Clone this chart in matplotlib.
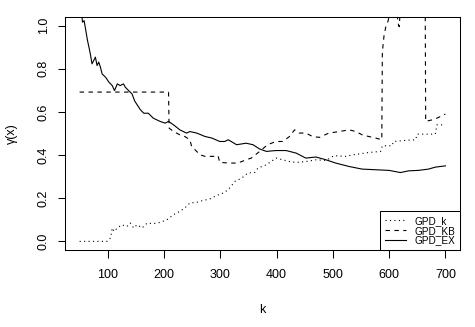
import matplotlib
matplotlib.use("Agg")
import matplotlib.pyplot as plt

plt.rcParams['font.family'] = ['Liberation Sans', 'DejaVu Sans']

# GPD_k (dotted)
k_k = [50, 99, 105, 108, 111, 117, 125, 134, 140, 146, 152, 161, 170, 181, 193, 205, 217, 228,
       237, 246, 258, 270, 281, 293, 305, 314, 326, 338, 349, 361, 367, 382, 399, 411, 423, 435,
       452, 470, 488, 502, 523, 535, 564, 585, 588, 605, 608, 629, 647, 650, 682, 685, 700]
gpd_k = [0.0, 0.0, 0.016, 0.062, 0.046, 0.062, 0.077, 0.069, 0.085, 0.062, 0.077, 0.062, 0.085,
         0.082, 0.088, 0.100, 0.124, 0.139, 0.155, 0.178, 0.181, 0.190, 0.196, 0.212, 0.224, 0.239,
         0.278, 0.293, 0.317, 0.319, 0.340, 0.355, 0.386, 0.378, 0.370, 0.366, 0.370, 0.378, 0.375,
         0.397, 0.394, 0.401, 0.412, 0.417, 0.443, 0.443, 0.463, 0.468, 0.471, 0.497, 0.497, 0.540,
         0.540]

# GPD_KB (dashed)
k_kb = [50, 208, 209, 217, 228, 237, 246, 249, 255, 264, 273, 287, 296, 299, 317, 331, 346, 355,
        370, 384, 399, 411, 423, 432, 440, 452, 464, 476, 493, 511, 529, 541, 552, 564, 576, 587,
        588, 591, 594, 598, 603, 613, 616, 618, 620, 664, 665, 676, 685, 700]
gpd_kb = [0.692, 0.692, 0.525, 0.509, 0.494, 0.486, 0.471, 0.44, 0.425, 0.401, 0.394, 0.394,
          0.397, 0.366, 0.363, 0.363, 0.378, 0.386, 0.417, 0.448, 0.463, 0.463, 0.486, 0.517,
          0.502, 0.502, 0.486, 0.482, 0.502, 0.509, 0.517, 0.509, 0.494, 0.486, 0.479, 0.471,
          0.877, 0.954, 0.993, 1.02, 1.08, 1.08, 1.01, 0.995, 1.08, 1.2, 0.556, 0.563, 0.571, 0.59]

# GPD_EX (solid)
k_ex = [50, 53, 55, 58, 61, 64, 66, 69, 72, 75, 78, 81, 84, 87, 90, 96, 102, 108, 112, 117, 122,
        128, 131, 137, 143, 148, 158, 164, 172, 181, 193, 202, 208, 217, 228, 240, 246, 258, 273,
        285, 299, 308, 314, 329, 346, 358, 370, 382, 399, 417, 435, 452, 470, 488, 505, 529, 552,
        576, 600, 620, 635, 652, 670, 682, 700]
gpd_ex = [1.10, 1.08, 1.016, 1.023, 0.977, 0.931, 0.907, 0.869, 0.823, 0.838, 0.854, 0.815, 0.831,
          0.807, 0.776, 0.761, 0.738, 0.722, 0.699, 0.730, 0.722, 0.730, 0.715, 0.699, 0.684, 0.650,
          0.61, 0.594, 0.594, 0.571, 0.556, 0.548, 0.556, 0.540, 0.517, 0.502, 0.509, 0.502, 0.486,
          0.479, 0.463, 0.463, 0.471, 0.448, 0.455, 0.448, 0.428, 0.417, 0.421, 0.421, 0.409, 0.386,
          0.391, 0.378, 0.363, 0.347, 0.335, 0.332, 0.329, 0.319, 0.327, 0.329, 0.335, 0.344, 0.350]

labels = ["GPD_k", "GPD_KB", "GPD_EX"]
xticks = [100, 200, 300, 400, 500, 600, 700]
yticks = [0.0, 0.2, 0.4, 0.6, 0.8, 1.0]

W, H = 475, 327
fig = plt.figure(figsize=(W / 100, H / 100), dpi=100)
ax = fig.add_axes([65 / W, 1 - 250 / H, 395 / W, 233 / H])

lw = 0.8
l1, = ax.plot(k_k, gpd_k, color='black', lw=lw, linestyle=(0, (1, 3)))
l2, = ax.plot(k_kb, gpd_kb, color='black', lw=lw, linestyle=(0, (4, 4)))
l3, = ax.plot(k_ex, gpd_ex, color='black', lw=lw, linestyle='-')

ax.set_xlim(24, 726)
ax.set_ylim(-0.04, 1.04)
ax.set_xticks(xticks)
ax.set_xticklabels([str(v) for v in xticks])
ax.set_yticks(yticks)
ax.set_yticklabels([f"{v:.1f}" for v in yticks])

for s in ax.spines.values():
    s.set_linewidth(0.75)
ax.tick_params(axis='both', direction='out', length=5.4, width=0.75, labelsize=9)
ax.tick_params(axis='x', pad=8.5)
ax.tick_params(axis='y', pad=5.5)
for t in ax.get_yticklabels():
    t.set_rotation(90)
    t.set_va('center')

fig.text(262.5 / W, 1 - 310 / H, "k", ha='center', va='center', fontsize=9)
fig.text(12 / W, 1 - 133.5 / H, "γ(x)", ha='center', va='center', rotation=90, fontsize=9)

leg = ax.legend([l1, l2, l3], labels, loc='lower right', fontsize=7.2, frameon=True,
                fancybox=False, edgecolor='black', framealpha=1, borderaxespad=0,
                borderpad=0.45, labelspacing=-0.02, handlelength=2.1, handletextpad=0.9)
leg.get_frame().set_linewidth(0.75)

fig.savefig("out.png", dpi=100)
